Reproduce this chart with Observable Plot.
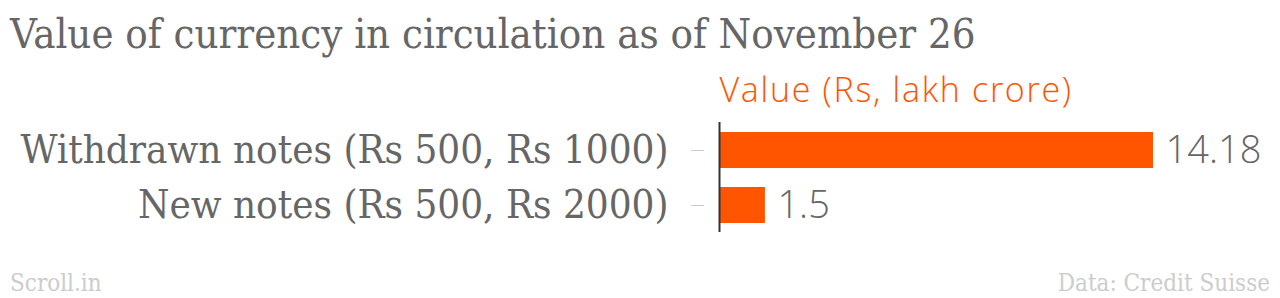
<!DOCTYPE html>
<html>
<head>
<meta charset="utf-8">
<script src="https://cdn.jsdelivr.net/npm/d3@7"></script>
<script src="https://cdn.jsdelivr.net/npm/@observablehq/plot@0.6"></script>
<style>
  html, body { margin: 0; padding: 0; background: #fff; }
  body { width: 1280px; height: 298px; position: relative; overflow: hidden; }
  .serif { font-family: "DejaVu Serif", serif; font-stretch: condensed; }
  #title { position: absolute; left: 10px; top: 9px; font-size: 41.5px; line-height: normal; color: #666; white-space: nowrap; }
  #chart { position: absolute; left: 0; top: 60px; }
  #source-left, #source-right { position: absolute; top: 269px; font-size: 24px; line-height: normal; color: #ccc; white-space: nowrap; }
  #source-left { left: 10px; }
  #source-right { right: 10px; }
  .cat-axis text { font-stretch: condensed; }
</style>
</head>
<body>
<div id="title" class="serif">Value of currency in circulation as of November 26</div>
<div id="chart"></div>
<div id="source-left" class="serif">Scroll.in</div>
<div id="source-right" class="serif">Data: Credit Suisse</div>
<script>
// Currency in circulation, in lakh crore rupees
const categories = ["Withdrawn notes (Rs 500, Rs 1000)", "New notes (Rs 500, Rs 2000)"];
const values = [14.18, 1.5];
const valueLabel = "Value (Rs, lakh crore)";

const rows = categories.map((c, i) => ({category: c, value: values[i]}));
const orange = "#ff5400";

const chart = Plot.plot({
  width: 1280,
  height: 190,
  marginLeft: 719,
  marginRight: 127,
  marginTop: 62,
  marginBottom: 18,
  style: {fontFamily: "'Open Sans', sans-serif", background: "transparent"},
  x: {domain: [0, d3.max(values)], axis: null},
  y: {domain: categories, paddingInner: 0.35, paddingOuter: 0.175},
  marks: [
    Plot.barX(rows, {x: "value", y: "category", fill: orange}),
    Plot.axisY({
      tickSize: 13,
      tickPadding: 23,
      dx: -15,
      stroke: "#ccc",
      label: null,
      fill: "#666",
      fontSize: 40,
      fontFamily: "'DejaVu Serif', serif",
      className: "cat-axis"
    }),
    Plot.ruleX([0], {stroke: "#333", strokeWidth: 2}),
    Plot.text(rows, {
      x: "value", y: "category", text: d => String(d.value),
      textAnchor: "start", dx: 12, fill: "#666",
      fontSize: 38, fontWeight: 300
    }),
    Plot.text([valueLabel], {
      frameAnchor: "top-left", text: d => d, textAnchor: "start",
      lineAnchor: "bottom", dy: -21, fill: orange, fontSize: 34, fontWeight: 300
    })
  ]
});
// condensed serif for the category labels, slight tracking on the axis title
chart.querySelectorAll("text").forEach(t => {
  if (categories.includes(t.textContent)) t.style.fontStretch = "condensed";
  if (t.textContent === valueLabel) t.setAttribute("letter-spacing", "1.7");
});
document.getElementById("chart").appendChild(chart);
</script>
</body>
</html>
